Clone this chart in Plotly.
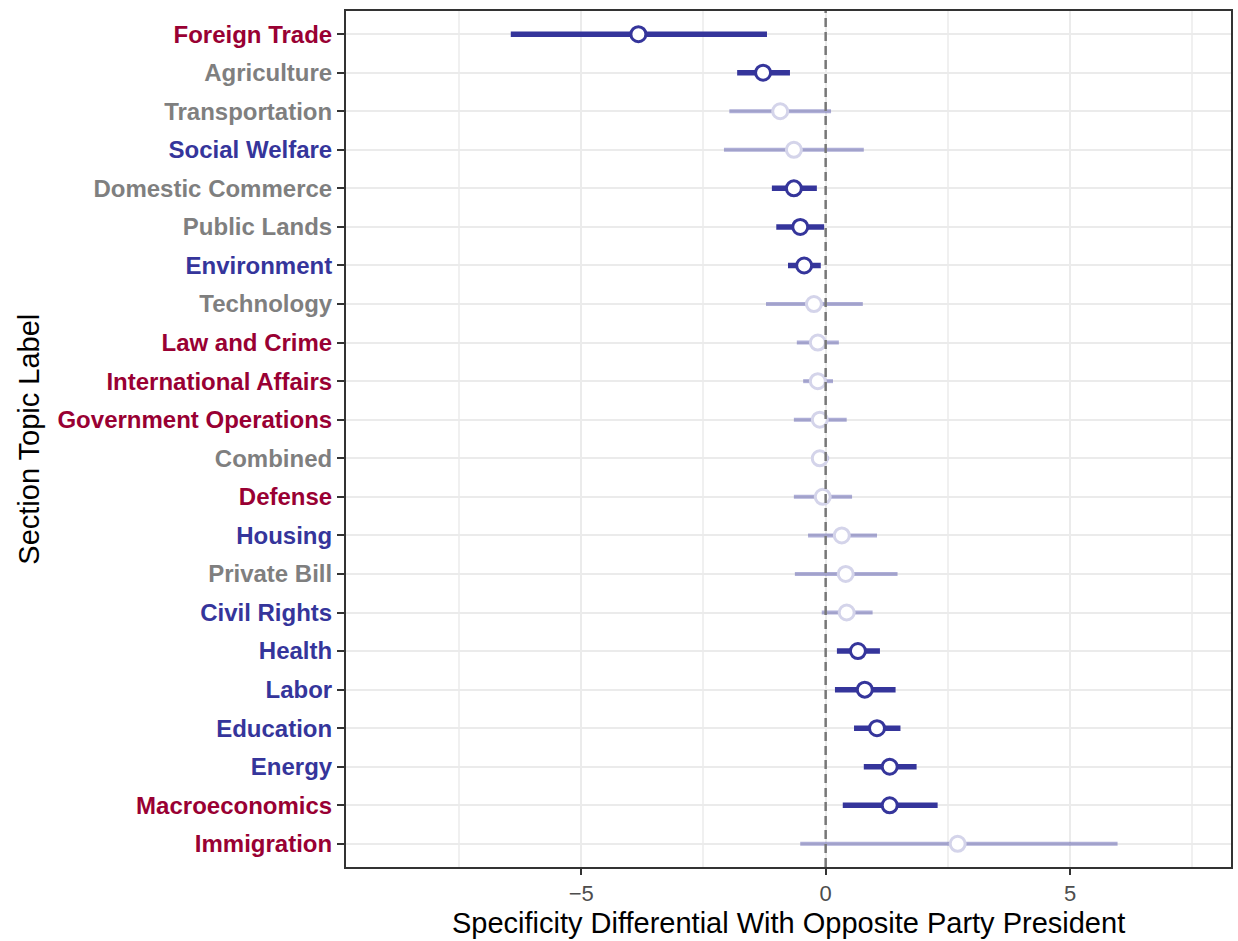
import plotly.graph_objects as go

# Section topics, top to bottom
topics = [
    "Foreign Trade", "Agriculture", "Transportation", "Social Welfare",
    "Domestic Commerce", "Public Lands", "Environment", "Technology",
    "Law and Crime", "International Affairs", "Government Operations",
    "Combined", "Defense", "Housing", "Private Bill", "Civil Rights",
    "Health", "Labor", "Education", "Energy", "Macroeconomics", "Immigration",
]

# Point estimates and 95% interval bounds
estimate = [-3.83, -1.28, -0.93, -0.65, -0.65, -0.52, -0.44, -0.24, -0.16, -0.16,
            -0.12, -0.12, -0.06, 0.33, 0.41, 0.43, 0.66, 0.80, 1.05, 1.31, 1.31, 2.70]
ci_low = [-6.44, -1.81, -1.97, -2.08, -1.10, -1.01, -0.77, -1.22, -0.59, -0.46,
          -0.65, -0.30, -0.65, -0.36, -0.63, -0.08, 0.23, 0.19, 0.58, 0.78, 0.35, -0.52]
ci_high = [-1.20, -0.73, 0.11, 0.78, -0.18, -0.03, -0.10, 0.76, 0.27, 0.15,
           0.43, 0.07, 0.54, 1.05, 1.47, 0.96, 1.11, 1.43, 1.53, 1.86, 2.29, 5.97]

# Party ownership of each topic: R = Republican, D = Democratic, N = neither
owner = ["R", "N", "N", "D", "N", "N", "D", "N", "R", "R", "R",
         "N", "R", "D", "N", "D", "D", "D", "D", "D", "R", "R"]

x_ticks = [-5, 0, 5]
x_minor = [-7.5, -2.5, 2.5, 7.5]

OWNER_COLORS = {"R": "#990033", "D": "#35359b", "N": "#7f7f7f"}
FONT = "Liberation Sans, Arial, Helvetica, sans-serif"

fig = go.Figure()

groups = {
    True: dict(line="#35359b", ring="#35359b", thick=5.5),
    False: dict(line="rgba(53,53,155,0.40)", ring="#d4d4ea", thick=4),
}
significant = [(lo > 0) or (hi < 0) for lo, hi in zip(ci_low, ci_high)]

for sig in (False, True):
    idx = [i for i, s in enumerate(significant) if s == sig]
    style = groups[sig]
    fig.add_trace(go.Scatter(
        x=[estimate[i] for i in idx],
        y=[topics[i] for i in idx],
        mode="markers",
        error_x=dict(
            type="data", symmetric=False,
            array=[ci_high[i] - estimate[i] for i in idx],
            arrayminus=[estimate[i] - ci_low[i] for i in idx],
            thickness=style["thick"], width=0, color=style["line"],
        ),
        marker=dict(size=15, color="white",
                    line=dict(width=3, color=style["ring"])),
        showlegend=False,
        hoverinfo="x+y",
    ))

# Reference line at zero
fig.add_shape(type="line", x0=0, x1=0, xref="x", y0=0, y1=1, yref="paper",
              line=dict(color="#777777", width=2.5, dash="9px,5px"), layer="above")

ticktext = [f'<span style="color:{OWNER_COLORS[o]}">{t}</span>'
            for t, o in zip(topics, owner)]

fig.update_layout(
    width=1238, height=941,
    margin=dict(l=346, r=5, t=11, b=74),
    paper_bgcolor="white", plot_bgcolor="white",
    font=dict(family=FONT, color="black"),
    xaxis=dict(
        range=[-9.81, 8.29],
        tickvals=x_ticks,
        ticktext=["\u22125", "0", "5"],
        tickfont=dict(size=22, color="#4d4d4d", family=FONT),
        ticks="outside", ticklen=6, tickwidth=2, tickcolor="#333333",
        showgrid=True, gridcolor="#ebebeb", gridwidth=2,
        minor=dict(tickvals=x_minor, showgrid=True, gridcolor="#f0f0f0", gridwidth=1.5),
        showline=True, linecolor="#333333", linewidth=2, mirror=True,
        zeroline=False,
    ),
    yaxis=dict(
        type="category",
        categoryorder="array", categoryarray=topics,
        range=[len(topics) - 1 + 0.6, -0.6],
        tickvals=topics, ticktext=ticktext,
        tickfont=dict(size=24, family=FONT, weight="bold"),
        ticks="outside", ticklen=7, tickwidth=2, tickcolor="#333333",
        showgrid=True, gridcolor="#ebebeb", gridwidth=2,
        showline=True, linecolor="#333333", linewidth=2, mirror=True,
        zeroline=False,
    ),
    annotations=[
        dict(text="Specificity Differential With Opposite Party President",
             xref="paper", yref="paper", x=0.5, y=-56 / 856,
             xanchor="center", yanchor="middle", showarrow=False,
             font=dict(size=29, color="black", family=FONT)),
        dict(text="Section Topic Label",
             xref="paper", yref="paper", x=-318 / 887, y=0.5, textangle=-90,
             xanchor="center", yanchor="middle", showarrow=False,
             font=dict(size=29, color="black", family=FONT)),
    ],
)

fig.write_html("out.html")
